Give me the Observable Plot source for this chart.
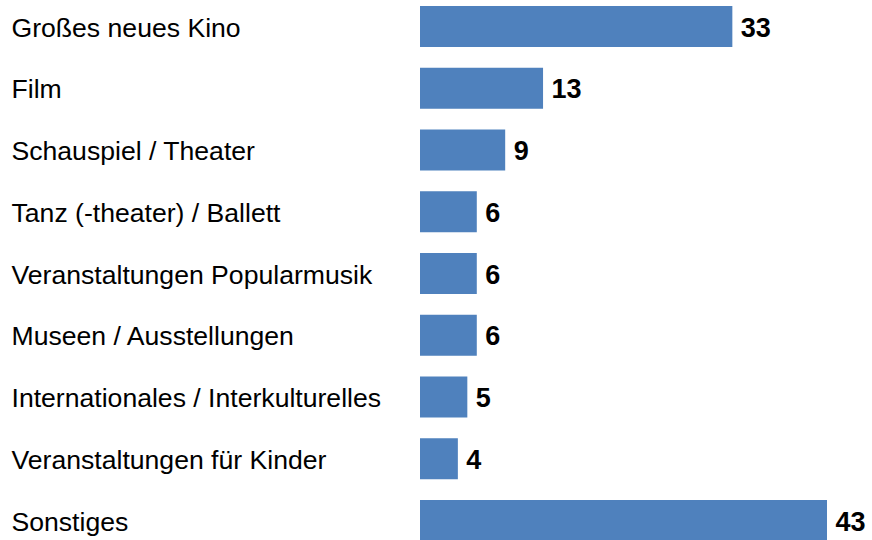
<!DOCTYPE html>
<html>
<head>
<meta charset="utf-8">
<script src="https://cdn.jsdelivr.net/npm/d3@7"></script>
<script src="https://cdn.jsdelivr.net/npm/@observablehq/plot@0.6"></script>
<style>
  html, body { margin: 0; padding: 0; background: #fff; }
</style>
</head>
<body>
<div id="chart"></div>
<script>
const categories = [
  "Großes neues Kino",
  "Film",
  "Schauspiel / Theater",
  "Tanz (-theater) / Ballett",
  "Veranstaltungen Popularmusik",
  "Museen / Ausstellungen",
  "Internationales / Interkulturelles",
  "Veranstaltungen für Kinder",
  "Sonstiges"
];
const values = [33, 13, 9, 6, 6, 6, 5, 4, 43];

const data = categories.map((c, i) => ({category: c, value: values[i]}));

const chart = Plot.plot({
  width: 872,
  height: 540,
  marginLeft: 420,
  marginRight: 45,
  marginTop: 6,
  marginBottom: -1,
  style: {fontFamily: "'Liberation Sans', Arial, sans-serif", background: "#fff"},
  x: {domain: [0, 43], axis: null},
  y: {domain: categories, axis: null, paddingInner: 0.336, paddingOuter: 0, align: 0, round: false},
  marks: [
    Plot.barX(data, {x: "value", y: "category", fill: "#4f81bd"}),
    Plot.text(data, {
      y: "category", text: "category", frameAnchor: "left", dx: -409, dy: 1,
      textAnchor: "start", fontSize: 26.6, fill: "#000"
    }),
    Plot.text(data, {
      x: "value", y: "category", text: d => String(d.value), dx: 8, dy: 1,
      textAnchor: "start", fontSize: 27, fontWeight: "bold", fill: "#000"
    })
  ]
});
document.getElementById("chart").appendChild(chart);
</script>
</body>
</html>
